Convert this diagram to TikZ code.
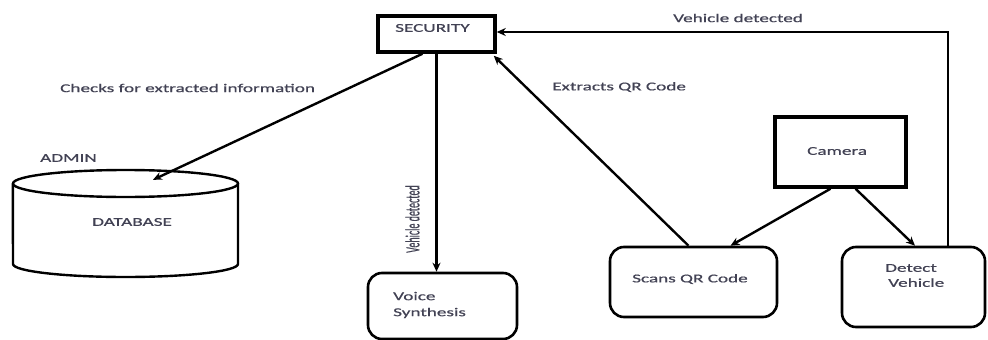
\documentclass[tikz,border=0pt]{standalone}
\usepackage{fontspec}
\setmainfont[FakeStretch=1.6,FakeBold=0.7]{Carlito}
\newfontfamily\plainf[FakeBold=0.5]{Carlito}
\usetikzlibrary{arrows.meta,calc}
\definecolor{txt}{RGB}{66,66,84}
\tikzset{
  lbl/.style={inner sep=0pt, text=txt, font=\fontsize{12}{15}\selectfont},
  sqbox/.style={draw, line width=3.5pt, inner sep=0pt},
  rbox/.style={draw, line width=2.6pt, rounded corners=14pt, inner sep=0pt},
  ghost/.style={inner sep=0pt},
  arr/.style={line width=2.4pt, -{Stealth[length=9pt,width=8pt]}},
  cyl/.style={line width=2.4pt}
}
\begin{document}
\begin{tikzpicture}[x=1pt,y=1pt]
\useasboundingbox (0,0) rectangle (988,-340);
% boxes
\node[sqbox, minimum width=117pt, minimum height=36pt] (sec) at (436.5,-34) {};
\node[sqbox, minimum width=131pt, minimum height=70pt] (cam) at (840.5,-152) {};
\node[rbox, minimum width=167pt, minimum height=70pt] (scan) at (693.5,-282) {};
\node[rbox, minimum width=143pt, minimum height=80pt] (det) at (913.5,-287) {};
\node[rbox, minimum width=149pt, minimum height=66pt] (voice) at (442.5,-306) {};
\node[ghost, minimum width=225pt, minimum height=107pt] (db) at (125.5,-223.5) {};
% database cylinder
\draw[cyl] (125.5,-183.5) ellipse [x radius=112.5pt, y radius=13.5pt];
\draw[cyl] (db.west |- 0,-183.5) -- (13,-264) arc[start angle=180, end angle=360, x radius=112.5pt, y radius=13pt] -- (238,-183.5);
% texts
\node[lbl, anchor=west] (tsec) at (395,-28) {SECURITY};
\node[lbl, anchor=west] (tchk) at (60,-88) {Checks for extracted information};
\node[lbl, anchor=west] (text) at (552,-87) {Extracts QR Code};
\node[lbl, anchor=west] (tveh) at (673,-18) {Vehicle detected};
\node[lbl, anchor=west] (tadm) at (40,-158) {ADMIN};
\node[lbl, anchor=west] (tdb) at (92,-222) {DATABASE};
\node[lbl, anchor=west] (tcam) at (807,-151) {Camera};
\node[lbl, anchor=west] (tscan) at (632,-279) {Scans QR Code};
\node[lbl, anchor=west, align=left] (tdet) at (885,-275.5) {Detect\\\hspace*{3pt}Vehicle};
\node[lbl, anchor=west, align=left, font=\fontsize{12}{16}\selectfont] (tvoice) at (393,-305) {Voice\\Synthesis};
\node[inner sep=0pt, text=txt] (trot) at (412.5,-219) {\scalebox{2.0}[1]{\rotatebox{90}{\plainf\fontsize{10}{12}\selectfont Vehicle detected}}};
% connectors
\draw[arr] ([xshift=-14pt]sec.south) -- ([xshift=27.5pt,yshift=-10pt]db.north);
\draw[arr] (sec.south) -- (sec.south |- voice.north);
\draw[arr] ([xshift=-5pt]scan.north) -- ([xshift=-3pt,yshift=-2pt]sec.south east);
\draw[arr] ([xshift=34.5pt]det.north) |- ([yshift=2pt]sec.east);
\draw[arr] ([xshift=-10pt]cam.south) -- ([xshift=37pt]scan.north);
\draw[arr] ([xshift=15pt]cam.south) -- ([xshift=1.5pt]det.north);
\end{tikzpicture}
\end{document}
